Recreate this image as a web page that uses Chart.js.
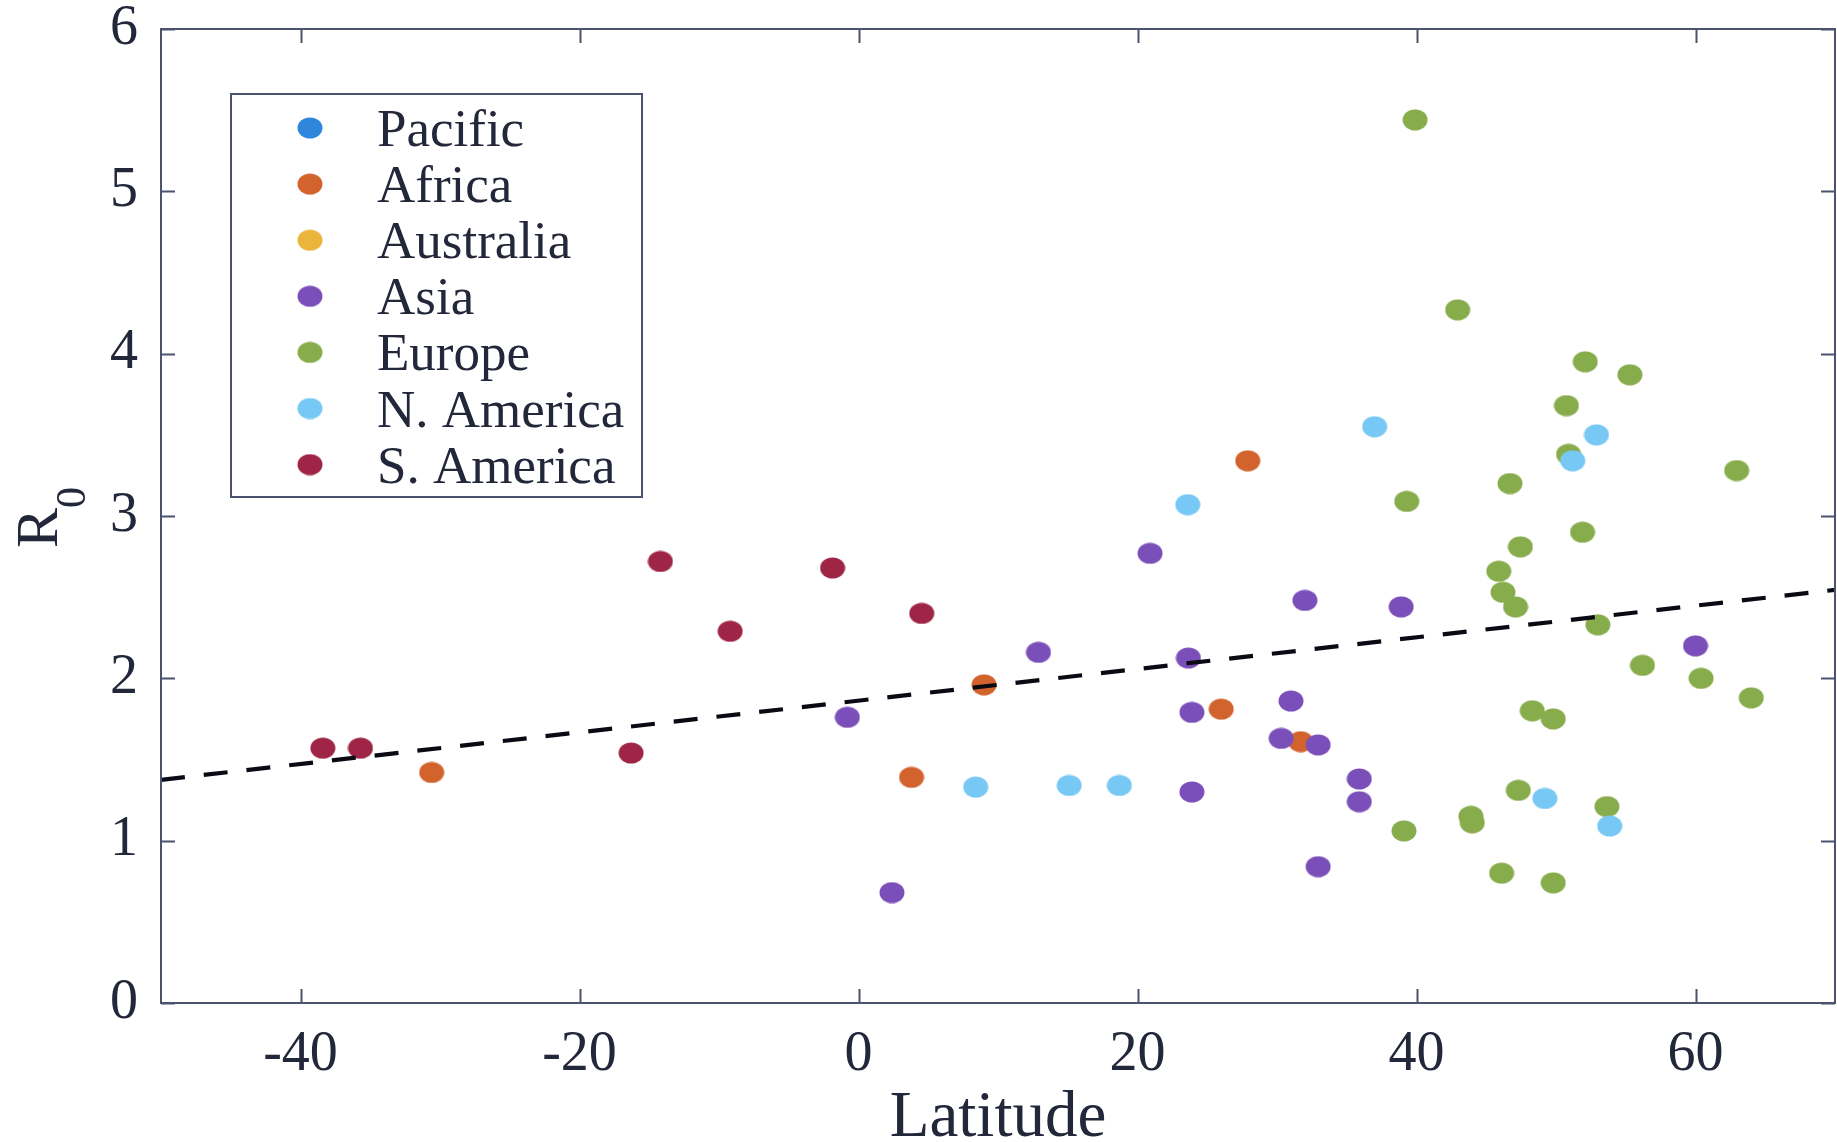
<!DOCTYPE html>
<html>
<head>
<meta charset="utf-8">
<script src="https://cdn.jsdelivr.net/npm/chart.js@4.4.1/dist/chart.umd.min.js"></script>
<style>
html,body{margin:0;padding:0;background:#ffffff;overflow:hidden}
#wrap{width:1837px;height:1142px;position:relative}
</style>
</head>
<body>
<div id="wrap"><canvas id="c" width="1837" height="1142"></canvas></div>
<script>
// ---- Data ----
const categories = ['Pacific', 'Africa', 'Australia', 'Asia', 'Europe', 'N. America', 'S. America'];

const pacificLat = [];
const pacificR0  = [];

const africaLat = [-30.6, 3.8, 9.0, 26.0, 27.9, 31.7];
const africaR0  = [1.42, 1.39, 1.96, 1.81, 3.34, 1.61];

const australiaLat = [];
const australiaR0  = [];

const asiaLat = [2.4, -0.8, 12.9, 20.9, 23.65, 23.9, 23.9, 30.3, 31.0, 32.0, 32.95, 32.95, 35.9, 35.9, 38.9, 60.0];
const asiaR0  = [0.68, 1.76, 2.16, 2.77, 2.125, 1.79, 1.30, 1.63, 1.86, 2.48, 1.59, 0.84, 1.38, 1.24, 2.44, 2.20];

const europeLat = [39.9, 42.95, 39.3, 39.1, 43.9, 44.0, 45.9, 46.2, 46.7, 47.1, 47.45, 47.3, 46.1, 48.3, 49.8, 49.8, 50.75, 50.9, 51.9, 52.1, 53.0, 53.65, 55.3, 56.2, 60.4, 62.95, 64.0];
const europeR0  = [5.44, 4.27, 3.09, 1.06, 1.15, 1.11, 2.66, 2.53, 3.20, 2.44, 2.81, 1.31, 0.80, 1.80, 1.75, 0.74, 3.68, 3.38, 2.90, 3.95, 2.33, 1.21, 3.87, 2.08, 2.00, 3.28, 1.88];

const nAmericaLat = [8.4, 15.1, 18.7, 23.6, 37.0, 49.2, 51.2, 52.9, 53.85];
const nAmericaR0  = [1.33, 1.34, 1.34, 3.07, 3.55, 1.26, 3.34, 3.50, 1.09];

const sAmericaLat = [-38.4, -35.7, -16.3, -14.2, -9.2, -1.86, 4.53];
const sAmericaR0  = [1.57, 1.57, 1.54, 2.72, 2.29, 2.68, 2.40];

const trendLat = [-50, 70];
const trendR0  = [1.375, 2.545];

const xTicks = [-40, -20, 0, 20, 40, 60];
const yTicks = [0, 1, 2, 3, 4, 5, 6];

// ---- Styling ----
const colors = ['#2F86DD', '#D2632D', '#EBB43B', '#7B4FB9', '#87AC4B', '#77C8F5', '#9E2545'];
const AXIS = '#4b536e';
const TEXT = '#23273a';
const FONT = 'Liberation Serif, "Times New Roman", serif';

function makeDot(color) {
  const c = document.createElement('canvas');
  c.width = 26; c.height = 22;
  const g = c.getContext('2d');
  g.fillStyle = color;
  g.beginPath();
  g.ellipse(13, 11, 12.5, 10.5, 0, 0, Math.PI * 2);
  g.fill();
  return c;
}

function zip(xs, ys) { return xs.map((x, i) => ({x: x, y: ys[i]})); }

const seriesLat = [pacificLat, africaLat, australiaLat, asiaLat, europeLat, nAmericaLat, sAmericaLat];
const seriesR0  = [pacificR0, africaR0, australiaR0, asiaR0, europeR0, nAmericaR0, sAmericaR0];
const dots = colors.map(makeDot);

const datasets = categories.map((name, i) => ({
  label: name,
  data: zip(seriesLat[i], seriesR0[i]),
  backgroundColor: colors[i],
  borderColor: colors[i],
  pointStyle: dots[i],
  pointRadius: 11,
  order: categories.length - i
}));

datasets.push({
  type: 'line',
  label: 'trend',
  data: zip(trendLat, trendR0),
  borderColor: '#0a0a14',
  borderWidth: 4.2,
  borderDash: [24, 19],
  borderCapStyle: 'butt',
  pointRadius: 0,
  fill: false,
  order: 0
});

const framePlugin = {
  id: 'frame',
  afterDraw(chart) {
    const {ctx, chartArea: a, scales: {x, y}} = chart;
    ctx.save();
    // frame
    ctx.strokeStyle = AXIS;
    ctx.lineWidth = 2;
    ctx.strokeRect(a.left, a.top, a.right - a.left, a.bottom - a.top);
    // inward ticks
    const tl = 14;
    ctx.beginPath();
    xTicks.forEach(v => {
      const px = Math.round(x.getPixelForValue(v)) + 0.5;
      ctx.moveTo(px, a.bottom); ctx.lineTo(px, a.bottom - tl);
      ctx.moveTo(px, a.top); ctx.lineTo(px, a.top + tl);
    });
    yTicks.forEach(v => {
      const py = Math.round(y.getPixelForValue(v)) + 0.5;
      ctx.moveTo(a.left, py); ctx.lineTo(a.left + tl, py);
      ctx.moveTo(a.right, py); ctx.lineTo(a.right - tl, py);
    });
    ctx.stroke();

    // y-axis title R0 (with subscript)
    ctx.fillStyle = TEXT;
    ctx.save();
    ctx.translate(57, 548);
    ctx.rotate(-Math.PI / 2);
    ctx.textBaseline = 'alphabetic';
    ctx.textAlign = 'left';
    ctx.font = '60px ' + FONT;
    ctx.fillText('R', 0, 0);
    const rw = ctx.measureText('R').width;
    ctx.font = '42px ' + FONT;
    ctx.fillText('0', rw, 28);
    ctx.restore();

    // legend box
    const bx = 231, by = 94, bw = 411, bh = 403;
    ctx.fillStyle = '#ffffff';
    ctx.fillRect(bx, by, bw, bh);
    ctx.strokeStyle = AXIS;
    ctx.lineWidth = 2;
    ctx.strokeRect(bx, by, bw, bh);
    ctx.font = '53px ' + FONT;
    ctx.textAlign = 'left';
    ctx.textBaseline = 'alphabetic';
    chart.data.datasets.forEach((ds, i) => {
      if (i >= categories.length) return;
      const cy = 128 + i * 56.1;
      const img = ds.pointStyle;
      ctx.drawImage(img, 310 - img.width / 2, cy - img.height / 2);
      ctx.fillStyle = TEXT;
      ctx.fillText(ds.label, 377, cy + 18);
    });
    ctx.restore();
  }
};

new Chart(document.getElementById('c').getContext('2d'), {
  type: 'scatter',
  data: {datasets: datasets},
  options: {
    responsive: false,
    animation: false,
    devicePixelRatio: 1,
    layout: {autoPadding: false, padding: {top: 29, right: 2, left: 0, bottom: 0}},
    plugins: {legend: {display: false}, tooltip: {enabled: false}},
    scales: {
      x: {
        type: 'linear',
        min: -50, max: 70,
        afterBuildTicks: s => { s.ticks = xTicks.map(v => ({value: v})); },
        afterFit: s => { s.height = 139; s.paddingLeft = 0; s.paddingRight = 0; },
        grid: {display: false, drawTicks: false},
        border: {display: false},
        ticks: {font: {family: FONT, size: 56, lineHeight: 1.2}, color: TEXT, padding: 19, maxRotation: 0, autoSkip: false},
        title: {display: true, text: 'Latitude', color: TEXT, font: {family: FONT, size: 65, lineHeight: 0.72}, padding: {top: 0, bottom: 0}}
      },
      y: {
        type: 'linear',
        min: 0, max: 6,
        afterBuildTicks: s => { s.ticks = yTicks.map(v => ({value: v})); },
        afterFit: s => { s.width = 161; s.paddingTop = 0; s.paddingBottom = 0; },
        grid: {display: false, drawTicks: false},
        border: {display: false},
        ticks: {font: {family: FONT, size: 56, lineHeight: 1.2}, color: TEXT, padding: 23, autoSkip: false}
      }
    }
  },
  plugins: [framePlugin]
});
</script>
</body>
</html>
